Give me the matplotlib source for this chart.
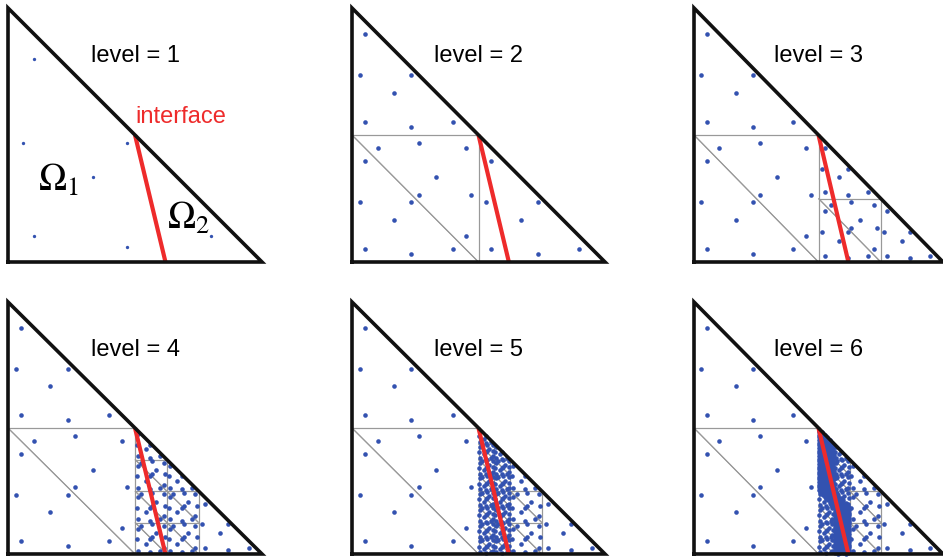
import numpy as np
import matplotlib
matplotlib.use("Agg")
import matplotlib.pyplot as plt
from matplotlib.collections import LineCollection

plt.rcParams['font.family'] = ['Liberation Sans', 'DejaVu Sans']
plt.rcParams['mathtext.fontset'] = 'stix'

# reference triangle and interface
TRI = np.array([[0.0, 0.0], [1.0, 0.0], [0.0, 1.0]])
IFACE = np.array([[0.5, 0.5], [0.62, 0.0]])
LEVELS = [1, 2, 3, 4, 5, 6]

# 7-point symmetric rule, barycentric coordinates
QBARY = np.array([
    [1 / 3, 1 / 3, 1 / 3],
    [0.101287, 0.101287, 0.797427],
    [0.101287, 0.797427, 0.101287],
    [0.797427, 0.101287, 0.101287],
    [0.470142, 0.470142, 0.059716],
    [0.470142, 0.059716, 0.470142],
    [0.059716, 0.470142, 0.470142],
])

# panel boxes in pixels: left, top, width, height
PANELS = [(8, 8, 254, 254), (352, 8, 253, 254), (694, 8, 249, 254),
          (8, 302, 254, 252), (352, 302, 253, 252), (694, 302, 249, 252)]

W, H = 943, 559
BLUE = '#3352b0'
RED = '#ee2b2b'


def crosses(tri, seg, eps=1e-9):
    # clip segment against triangle, true if a piece of positive length is inside
    p0, p1 = seg
    d = p1 - p0
    t0, t1 = 0.0, 1.0
    c = tri.mean(axis=0)
    for i in range(3):
        a, b = tri[i], tri[(i + 1) % 3]
        n = np.array([-(b - a)[1], (b - a)[0]])
        if np.dot(c - a, n) < 0:
            n = -n
        num = np.dot(p0 - a, n)
        den = np.dot(d, n)
        if abs(den) < 1e-14:
            if num <= eps:
                return False
            continue
        t = -num / den
        if den > 0:
            t0 = max(t0, t)
        else:
            t1 = min(t1, t)
    return t1 - t0 > 1e-6


def split(tri):
    a, b, c = tri
    ab, bc, ca = (a + b) / 2, (b + c) / 2, (c + a) / 2
    return [np.array([a, ab, ca]), np.array([ab, b, bc]),
            np.array([ca, bc, c]), np.array([ab, bc, ca])]


def mesh(level):
    tris = [TRI]
    for _ in range(level - 1):
        new = []
        for t in tris:
            if crosses(t, IFACE):
                new.extend(split(t))
            else:
                new.append(t)
        tris = new
    return tris


fig = plt.figure(figsize=(W / 100, H / 100), dpi=100)

for lev, (px, py, pw, ph) in zip(LEVELS, PANELS):
    ax = fig.add_axes([px / W, 1 - (py + ph) / H, pw / W, ph / H])
    ax.set_xlim(0, 1)
    ax.set_ylim(0, 1)
    ax.axis('off')

    tris = mesh(lev)
    segs = []
    for t in tris:
        segs += [[t[0], t[1]], [t[1], t[2]], [t[2], t[0]]]
    ax.add_collection(LineCollection(segs, colors='#999999', linewidths=0.8))

    pts = np.vstack([QBARY @ t for t in tris])
    ms = 2.4 if lev == 1 else 3.3
    ax.plot(pts[:, 0], pts[:, 1], 'o', ms=ms, color=BLUE, mec='none', clip_on=False)

    ax.plot(IFACE[:, 0], IFACE[:, 1], color=RED, lw=3, solid_capstyle='butt')
    closed = np.vstack([TRI, TRI[:1]])
    ax.plot(closed[:, 0], closed[:, 1], color='#111111', lw=2.6,
            solid_joinstyle='miter', clip_on=False)

    ax.text(0.5, 0.81, 'level = %d' % lev, ha='center', va='center', fontsize=17)

    if lev == 1:
        ax.text(0.5, 0.57, 'interface', color=RED, ha='left', va='center', fontsize=17)
        ax.text(0.2, 0.32, r'$\Omega_1$', ha='center', va='center', fontsize=27)
        ax.text(0.71, 0.17, r'$\Omega_2$', ha='center', va='center', fontsize=27)

fig.savefig('out.png', dpi=100)
